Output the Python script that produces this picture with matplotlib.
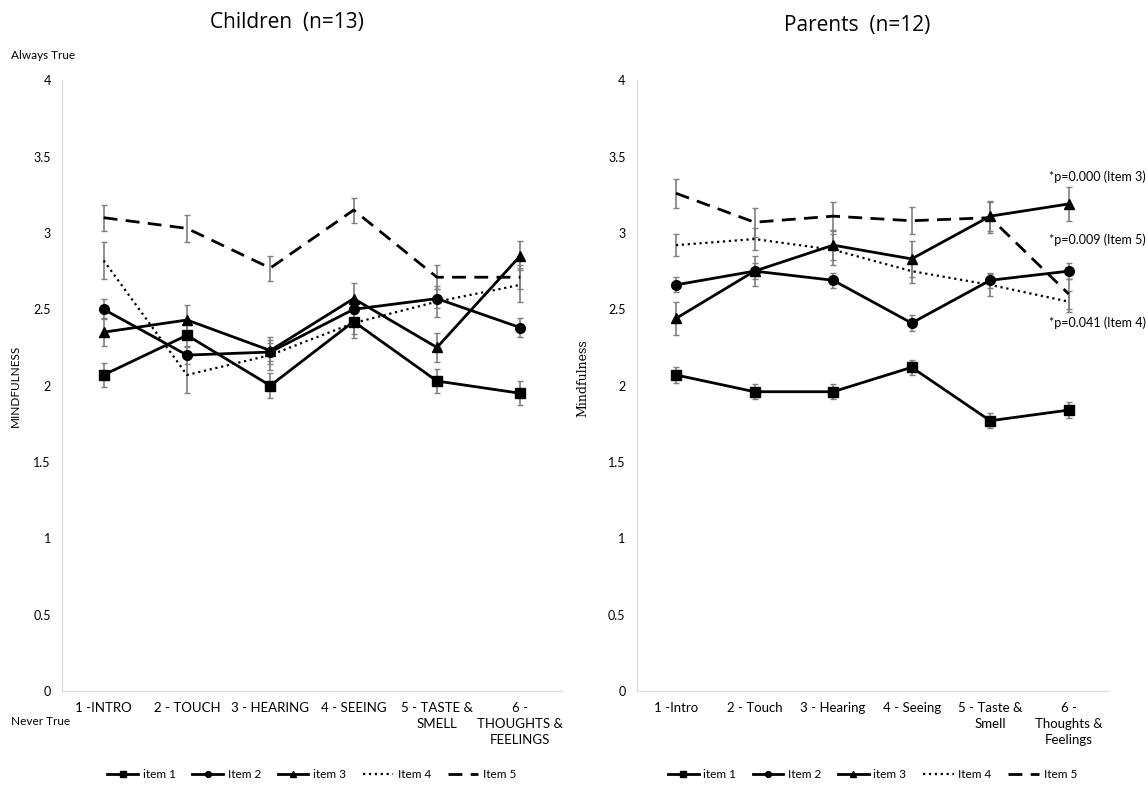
import numpy as np
import matplotlib
matplotlib.use('Agg')
import matplotlib.pyplot as plt

plt.rcParams['font.family'] = ['Lato', 'DejaVu Sans']

# 数据
kids_cats = ['1 -INTRO', '2 - TOUCH', '3 - HEARING', '4 - SEEING', '5 - TASTE &\nSMELL', '6 -\nTHOUGHTS &\nFEELINGS']
parent_cats = ['1 -Intro', '2 - Touch', '3 - Hearing', '4 - Seeing', '5 - Taste &\nSmell', '6 -\nThoughts &\nFeelings']
names = ['item 1', 'Item 2', 'item 3', 'Item 4', 'Item 5']

kids_mean = [
    [2.07, 2.33, 2.00, 2.42, 2.03, 1.95],
    [2.50, 2.20, 2.22, 2.50, 2.57, 2.38],
    [2.35, 2.43, 2.23, 2.57, 2.25, 2.85],
    [2.82, 2.07, 2.20, 2.41, 2.55, 2.66],
    [3.10, 3.03, 2.77, 3.15, 2.71, 2.71],
]
kids_err = [
    [0.08, 0.08, 0.08, 0.08, 0.08, 0.08],
    [0.065, 0.06, 0.06, 0.06, 0.06, 0.06],
    [0.09, 0.095, 0.09, 0.10, 0.095, 0.095],
    [0.12, 0.12, 0.10, 0.10, 0.10, 0.11],
    [0.085, 0.087, 0.082, 0.082, 0.08, 0.08],
]
parent_mean = [
    [2.07, 1.96, 1.96, 2.12, 1.77, 1.84],
    [2.66, 2.75, 2.69, 2.41, 2.69, 2.75],
    [2.44, 2.75, 2.92, 2.83, 3.11, 3.19],
    [2.92, 2.96, 2.89, 2.75, 2.66, 2.55],
    [3.26, 3.07, 3.11, 3.08, 3.10, 2.60],
]
parent_err = [
    [0.05, 0.05, 0.05, 0.05, 0.05, 0.05],
    [0.05, 0.05, 0.05, 0.05, 0.05, 0.05],
    [0.11, 0.10, 0.10, 0.12, 0.10, 0.11],
    [0.07, 0.07, 0.10, 0.08, 0.07, 0.07],
    [0.094, 0.094, 0.095, 0.09, 0.10, 0.10],
]
pvals = ['*p=0.000 (Item 3)', '*p=0.009 (Item 5)', '*p=0.041 (Item 4)']
pval_y = [3.37, 2.955, 2.41]

markers = ['s', 'o', '^', None, None]
styles = ['-', '-', '-', ':', (0, (5, 3))]


def draw(ax, cats, means, errs):
    x = np.arange(len(cats))
    for m, e, mk, ls, nm in zip(means, errs, markers, styles, names):
        ax.errorbar(x, m, yerr=e, fmt='none', ecolor='#7f7f7f', elinewidth=1.2,
                    capsize=2.5, capthick=1.0, zorder=1)
        ax.plot(x, m, color='black', linestyle=ls, linewidth=2 if ls != ':' else 1.6,
                marker=mk, markersize=7, label=nm, zorder=2)
    ax.set_xlim(-0.5, len(cats) - 0.5)
    ax.set_ylim(0, 4)
    ax.set_yticks([0, 0.5, 1, 1.5, 2, 2.5, 3, 3.5, 4])
    ax.set_yticklabels(['0', '0.5', '1', '1.5', '2', '2.5', '3', '3.5', '4'], fontsize=9)
    ax.set_xticks(x)
    ax.set_xticklabels(cats, fontsize=9.5, linespacing=1.4)
    ax.tick_params(length=0, pad=8)
    for s in ['top', 'right']:
        ax.spines[s].set_visible(False)
    for s in ['left', 'bottom']:
        ax.spines[s].set_color('#d9d9d9')
    ax.legend(loc='center', bbox_to_anchor=(0.5, -0.137), ncol=5, frameon=False,
              fontsize=8.5, handlelength=2.6, columnspacing=1.4, handletextpad=0.4,
              markerscale=0.6)


fig = plt.figure(figsize=(11.48, 7.87), dpi=100)
ax1 = fig.add_axes([0.054, 0.122, 0.4355, 0.776])
ax2 = fig.add_axes([0.5546, 0.122, 0.4106, 0.776])

draw(ax1, kids_cats, kids_mean, kids_err)
draw(ax2, parent_cats, parent_mean, parent_err)

fig.text(0.25, 0.972, 'Children  (n=13)', ha='center', va='center', fontsize=15,
         family='Open Sans')
fig.text(0.747, 0.967, 'Parents  (n=12)', ha='center', va='center', fontsize=15,
         family='Open Sans')
fig.text(0.01, 0.929, 'Always True', fontsize=8.5, va='center')
fig.text(0.01, 0.083, 'Never True', fontsize=8.5, va='center')
fig.text(0.013, 0.51, 'MINDFULNESS', fontsize=8.5, rotation=90, va='center', ha='center')
fig.text(0.508, 0.52, 'Mindfulness', fontsize=9, rotation=90, va='center', ha='center',
         family='DejaVu Serif')

for t, yv in zip(pvals, pval_y):
    ax2.text(5.98, yv, t, ha='right', va='center', fontsize=9, clip_on=False)

fig.savefig('out.png', dpi=100)
